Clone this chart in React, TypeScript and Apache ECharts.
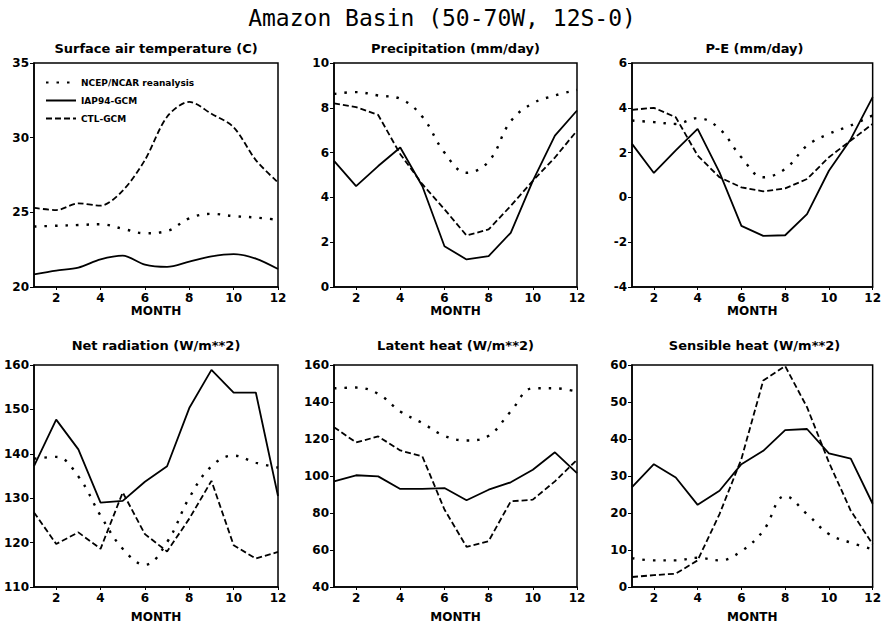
import React, { useEffect, useRef } from "react";
import * as echarts from "echarts";

const months = ["1", "2", "3", "4", "5", "6", "7", "8", "9", "10", "11", "12"];
const seriesNames = ["NCEP/NCAR reanalysis", "IAP94-GCM", "CTL-GCM"];

const tempNcep = [24.05, 24.1, 24.15, 24.2, 23.9, 23.6, 23.75, 24.6, 24.9, 24.75, 24.65, 24.5];
const tempIap = [20.85, 21.1, 21.3, 21.85, 22.1, 21.5, 21.35, 21.7, 22.05, 22.2, 21.9, 21.2];
const tempCtl = [25.3, 25.15, 25.6, 25.45, 26.45, 28.5, 31.4, 32.4, 31.6, 30.7, 28.5, 27.0];

const precNcep = [8.62, 8.7, 8.55, 8.4, 7.6, 6.0, 5.1, 5.6, 7.4, 8.2, 8.55, 8.8];
const precIap = [5.63, 4.5, 5.4, 6.23, 4.5, 1.82, 1.23, 1.38, 2.42, 4.74, 6.76, 7.88];
const precCtl = [8.2, 8.03, 7.68, 5.93, 4.59, 3.47, 2.3, 2.57, 3.62, 4.74, 5.78, 6.98];

const peNcep = [3.43, 3.36, 3.28, 3.54, 3.06, 1.79, 0.9, 1.27, 2.31, 2.84, 3.21, 3.66];
const peIap = [2.39, 1.09, 2.1, 3.06, 1.12, -1.27, -1.72, -1.69, -0.75, 1.19, 2.6, 4.48];
const peCtl = [3.91, 4.0, 3.58, 1.87, 0.9, 0.45, 0.27, 0.4, 0.82, 1.79, 2.54, 3.28];

const netNcep = [138.9, 139.3, 134.9, 126.1, 118.6, 115.0, 120.1, 130.1, 137.2, 139.6, 138.0, 136.9];
const netIap = [137.2, 147.7, 141.0, 129.0, 129.4, 133.7, 137.2, 150.3, 158.9, 153.8, 153.8, 130.5];
const netCtl = [126.8, 119.7, 122.3, 118.6, 131.3, 121.9, 118.0, 125.4, 133.9, 119.4, 116.4, 117.9];

const latNcep = [147.4, 147.8, 144.4, 134.9, 128.6, 121.7, 119.2, 121.7, 134.9, 147.4, 147.4, 145.6];
const latIap = [97.1, 100.4, 99.8, 93.0, 93.0, 93.5, 86.9, 92.6, 96.6, 103.4, 112.8, 101.6];
const latCtl = [126.4, 118.1, 121.4, 113.8, 110.6, 81.9, 61.7, 64.8, 86.3, 87.2, 97.1, 108.8];

const sensNcep = [7.8, 7.2, 7.2, 7.9, 7.2, 9.7, 15.2, 24.6, 19.7, 14.3, 12.0, 10.2];
const sensIap = [27.0, 33.2, 29.6, 22.2, 26.0, 33.2, 36.8, 42.4, 42.7, 36.1, 34.7, 22.5];
const sensCtl = [2.7, 3.2, 3.6, 7.2, 19.7, 34.6, 55.8, 59.7, 48.6, 33.7, 20.6, 11.6];

const panelTitles = [
  "Surface air temperature (C)",
  "Precipitation (mm/day)",
  "P-E (mm/day)",
  "Net radiation (W/m**2)",
  "Latent heat (W/m**2)",
  "Sensible heat (W/m**2)",
];
const yMins = [20, 0, -4, 110, 40, 0];
const yMaxs = [35, 10, 6, 160, 160, 60];
const yIntervals = [5, 2, 2, 10, 20, 10];
const panelData = [
  [tempNcep, tempIap, tempCtl],
  [precNcep, precIap, precCtl],
  [peNcep, peIap, peCtl],
  [netNcep, netIap, netCtl],
  [latNcep, latIap, latCtl],
  [sensNcep, sensIap, sensCtl],
];

const colLefts = [34, 334, 632];
const colWidths = [244, 243, 245];
const rowTops = [63, 365];
const rowHeights = [224, 222];
const rowTitleOffsets = [15, 20];
const rowNameGaps = [18, 24];

const FONT = "DejaVu Sans";

export default function App() {
  const ref = useRef<HTMLDivElement>(null);
  useEffect(() => {
    if (!ref.current) return;
    const chart = echarts.init(ref.current, undefined, { renderer: "svg" });
    const grids: any[] = [];
    const xAxes: any[] = [];
    const yAxes: any[] = [];
    const series: any[] = [];
    const graphics: any[] = [];
    for (let p = 0; p < 6; p++) {
      const r = Math.floor(p / 3);
      const c = p % 3;
      const left = colLefts[c];
      const top = rowTops[r];
      const width = colWidths[c];
      const height = rowHeights[r];
      grids.push({
        left,
        top,
        width,
        height,
        show: true,
        borderColor: "#000",
        borderWidth: 1.5,
        backgroundColor: "transparent",
      });
      xAxes.push({
        type: "category",
        gridIndex: p,
        data: months,
        boundaryGap: false,
        name: "MONTH",
        nameLocation: "middle",
        nameGap: rowNameGaps[r],
        nameTextStyle: { fontFamily: FONT, fontWeight: "bold", fontSize: 12, color: "#000" },
        axisLine: { onZero: false, lineStyle: { color: "#000", width: 1.5 } },
        axisTick: {
          show: true,
          length: 3,
          interval: (i: number) => (i + 1) % 2 === 0,
          lineStyle: { color: "#000" },
        },
        axisLabel: {
          interval: (i: number) => (i + 1) % 2 === 0,
          fontFamily: FONT,
          fontWeight: "bold",
          fontSize: 12,
          color: "#000",
          margin: 5,
        },
        splitLine: { show: false },
      });
      yAxes.push({
        type: "value",
        gridIndex: p,
        min: yMins[p],
        max: yMaxs[p],
        interval: yIntervals[p],
        axisLine: { show: true, lineStyle: { color: "#000", width: 1.5 } },
        axisTick: { show: true, length: 4, lineStyle: { color: "#000" } },
        axisLabel: {
          fontFamily: FONT,
          fontWeight: "bold",
          fontSize: 12,
          color: "#000",
          margin: 5,
        },
        splitLine: { show: false },
      });
      const styles = [
        { type: [2.5, 8], width: 2.4, cap: "butt" },
        { type: "solid", width: 1.8 },
        { type: [6, 3], width: 1.8 },
      ];
      for (let s = 0; s < 3; s++) {
        series.push({
          type: "line",
          name: seriesNames[s],
          xAxisIndex: p,
          yAxisIndex: p,
          data: panelData[p][s],
          symbol: "none",
          showSymbol: false,
          smooth: s === 0 ? 0.4 : p === 0 ? 0.3 : false,
          lineStyle: { color: "#000", ...styles[s] },
          itemStyle: { color: "#000" },
          z: 3,
        });
      }
      graphics.push({
        type: "text",
        x: left + width / 2,
        y: top - rowTitleOffsets[r],
        style: {
          text: panelTitles[p],
          fontFamily: FONT,
          fontWeight: "bold",
          fontSize: 13,
          fill: "#000",
          textAlign: "center",
          textVerticalAlign: "middle",
        },
      });
    }
    graphics.push({
      type: "text",
      x: 442,
      y: 18,
      style: {
        text: "Amazon Basin (50-70W, 12S-0)",
        fontFamily: "DejaVu Sans Mono",
        fontSize: 23,
        fill: "#000",
        textAlign: "center",
        textVerticalAlign: "middle",
      },
    });
    chart.setOption({
      animation: false,
      backgroundColor: "#fff",
      grid: grids,
      xAxis: xAxes,
      yAxis: yAxes,
      series,
      graphic: graphics,
      legend: {
        data: seriesNames,
        orient: "vertical",
        left: 40,
        top: 73,
        itemWidth: 30,
        itemHeight: 8,
        itemGap: 9,
        selectedMode: false,
        itemStyle: { opacity: 0, borderWidth: 0 },
        textStyle: { fontFamily: FONT, fontWeight: "bold", fontSize: 9, color: "#000" },
      },
    });
    return () => chart.dispose();
  }, []);
  return (
    <div
      ref={ref}
      style={{ position: "absolute", left: 0, top: 0, width: 884, height: 628, background: "#fff" }}
    />
  );
}
